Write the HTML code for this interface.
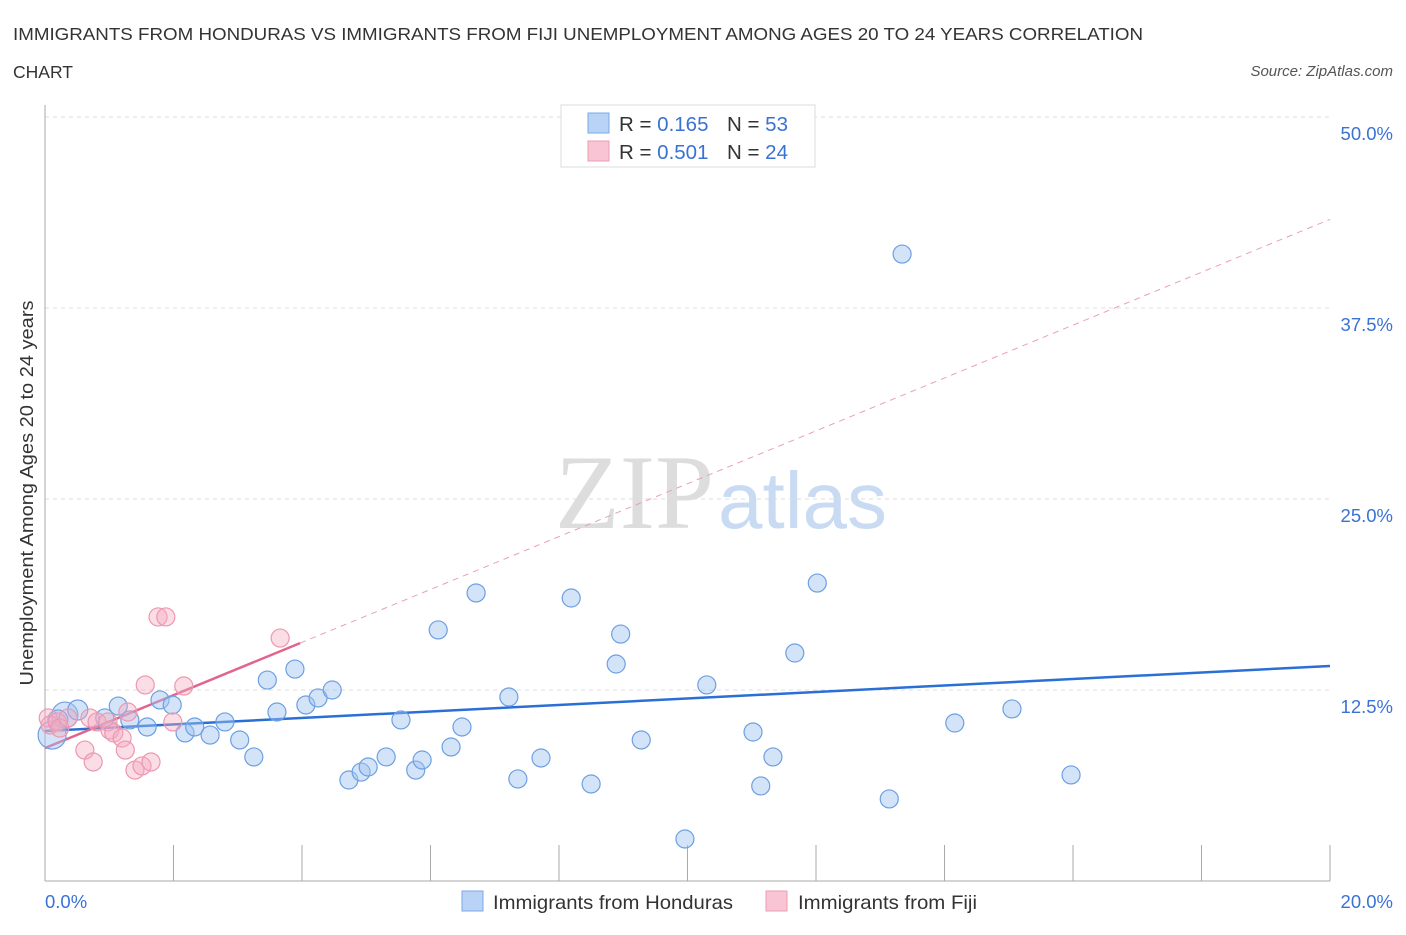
<!DOCTYPE html>
<html><head><meta charset="utf-8"><style>
body{margin:0;background:#fff;font-family:"Liberation Sans",sans-serif;}
</style></head><body>
<svg width="1406" height="930" xmlns="http://www.w3.org/2000/svg" font-family="Liberation Sans, sans-serif">
<text x="13" y="40" font-size="17.5" fill="#333" textLength="1130" lengthAdjust="spacingAndGlyphs">IMMIGRANTS FROM HONDURAS VS IMMIGRANTS FROM FIJI UNEMPLOYMENT AMONG AGES 20 TO 24 YEARS CORRELATION</text>
<text x="13" y="78" font-size="17.5" fill="#333">CHART</text>
<text x="1393" y="76" font-size="15" fill="#555" font-style="italic" text-anchor="end">Source: ZipAtlas.com</text>
<g>
<text x="555" y="528" font-size="106" font-family="Liberation Serif, serif" fill="#ddd">ZIP</text>
<text x="718" y="528" font-size="80" fill="#c8dbf2">atlas</text>
</g>
<g id="grid"></g>
<line x1="45" y1="105" x2="45" y2="881" stroke="#aaa"/>
<line x1="45" y1="881" x2="1330" y2="881" stroke="#aaa"/>
<g id="xticks"></g>
<text x="33" y="493" font-size="18.5" fill="#333" text-anchor="middle" textLength="385" lengthAdjust="spacingAndGlyphs" transform="rotate(-90 33 493)">Unemployment Among Ages 20 to 24 years</text>
<text x="45" y="908" font-size="18.5" fill="#3a72d4">0.0%</text>
<text x="1393" y="908" font-size="18.5" fill="#3a72d4" text-anchor="end">20.0%</text>
<g id="lines"></g>
<g id="points"></g>
<g>
<rect x="561" y="105" width="254" height="62" fill="#fff" stroke="#ddd"/>
<rect x="588" y="113" width="21" height="20" fill="#b8d3f5" stroke="#7aa9e6"/>
<rect x="588" y="141" width="21" height="20" fill="#f9c4d3" stroke="#ec9bb3"/>
<text x="619" y="131" font-size="20.5" fill="#333">R = <tspan fill="#3a72d4">0.165</tspan><tspan x="727">N = </tspan><tspan fill="#3a72d4">53</tspan></text>
<text x="619" y="159" font-size="20.5" fill="#333">R = <tspan fill="#3a72d4">0.501</tspan><tspan x="727">N = </tspan><tspan fill="#3a72d4">24</tspan></text>
</g>
<g>
<rect x="462" y="891" width="21" height="20" fill="#b8d3f5" stroke="#7aa9e6"/>
<text x="493" y="909" font-size="19.5" fill="#333" textLength="240" lengthAdjust="spacingAndGlyphs">Immigrants from Honduras</text>
<rect x="766" y="891" width="21" height="20" fill="#f9c4d3" stroke="#ec9bb3"/>
<text x="798" y="909" font-size="19.5" fill="#333" textLength="179" lengthAdjust="spacingAndGlyphs">Immigrants from Fiji</text>
</g>
</svg>
<script>
const yTicks=[12.5,25,37.5,50];
const yTickLabels=["12.5%","25.0%","37.5%","50.0%"];
const xTickVals=[0,2,4,6,8,10,12,14,16,18,20];
const hondurasX=[0.11,0.31,0.20,0.51,0.93,1.14,1.32,1.59,1.79,1.98,2.18,2.33,2.57,2.80,3.03,3.25,3.46,3.61,3.89,4.06,4.25,4.47,4.73,4.92,5.03,5.31,5.54,5.77,5.87,6.12,6.32,6.49,6.71,7.22,7.36,7.72,8.19,8.50,8.89,8.96,9.28,9.96,10.30,11.02,11.14,11.33,11.67,12.02,13.14,13.34,14.16,15.05,15.97];
const hondurasY=[9.55,10.86,10.54,11.19,10.67,11.45,10.54,10.08,11.85,11.52,9.69,10.08,9.55,10.41,9.23,8.12,13.15,11.06,13.87,11.52,11.98,12.50,6.61,7.13,7.46,8.12,10.54,7.26,7.92,16.43,8.77,10.08,18.85,12.04,6.68,8.05,18.52,6.35,14.20,16.16,9.23,2.75,12.83,9.75,6.22,8.12,14.92,19.50,5.37,41.03,10.34,11.26,6.94];
const hondurasR=[14,13,10,10,9,9,9,9,9,9,9,9,9,9,9,9,9,9,9,9,9,9,9,9,9,9,9,9,9,9,9,9,9,9,9,9,9,9,9,9,9,9,9,9,9,9,9,9,9,9,9,9,9];
const fijiX=[0.05,0.08,0.19,0.23,0.36,0.62,0.70,0.75,0.81,0.98,1.01,1.07,1.20,1.25,1.29,1.40,1.51,1.56,1.65,1.76,1.88,1.99,2.16,3.66];
const fijiY=[10.67,10.21,10.41,10.01,10.67,8.57,10.67,7.79,10.41,10.41,9.88,9.69,9.36,8.57,11.06,7.26,7.53,12.83,7.79,17.28,17.28,10.41,12.76,15.90];
const hondurasTrend=[9.82,14.07]; // y at x=0 and x=20
const fijiTrend=[8.70,1.73]; // intercept, slope
const fijiSolidEnd=3.97;
const X=v=>45+v/20*1285, Y=v=>881-v/12.5*191;
const NS="http://www.w3.org/2000/svg";
function mk(t,a,p){const e=document.createElementNS(NS,t);for(const k in a)e.setAttribute(k,a[k]);p.appendChild(e);return e;}
const grid=document.getElementById('grid');
yTicks.forEach((t,i)=>{
 const l=mk('line',{x1:45,x2:1330,y1:Y(t),y2:Y(t),stroke:'#ddd','stroke-dasharray':'4 4'},grid);
 
 
 const tx=mk('text',{x:1393,y:Y(t)+23,'font-size':18.5,fill:'#3a72d4','text-anchor':'end'},grid);
 tx.textContent=yTickLabels[i];
 
 
});
const xt=document.getElementById('xticks');
xTickVals.forEach(v=>{
 const l=mk('line',{x1:X(v),x2:X(v),y1:845,y2:881,stroke:'#aaa'},xt);
 
 
});
const lines=document.getElementById('lines');
let l=mk('line',{x1:X(0),y1:Y(hondurasTrend[0]),x2:X(20),y2:Y(hondurasTrend[1]),stroke:'#2a6fd6','stroke-width':2.5},lines);


l=mk('line',{x1:X(fijiSolidEnd),y1:Y(fijiTrend[0]+fijiTrend[1]*fijiSolidEnd),x2:X(20),y2:Y(fijiTrend[0]+fijiTrend[1]*20),stroke:'#e8a0b6','stroke-width':1,'stroke-dasharray':'6 5'},lines);


l=mk('line',{x1:X(0),y1:Y(fijiTrend[0]),x2:X(fijiSolidEnd),y2:Y(fijiTrend[0]+fijiTrend[1]*fijiSolidEnd),stroke:'#e0648c','stroke-width':2.5},lines);


const pts=document.getElementById('points');
hondurasX.forEach((x,i)=>{
 const c=mk('circle',{cx:X(x),cy:Y(hondurasY[i]),r:hondurasR[i],fill:'rgba(160,196,240,0.45)',stroke:'#6d9fe2','stroke-width':1.2},pts);
 
 
});
fijiX.forEach((x,i)=>{
 const c=mk('circle',{cx:X(x),cy:Y(fijiY[i]),r:9,fill:'rgba(246,170,192,0.4)',stroke:'#eb98b1','stroke-width':1.2},pts);
 
 
});
</script>
</body></html>
